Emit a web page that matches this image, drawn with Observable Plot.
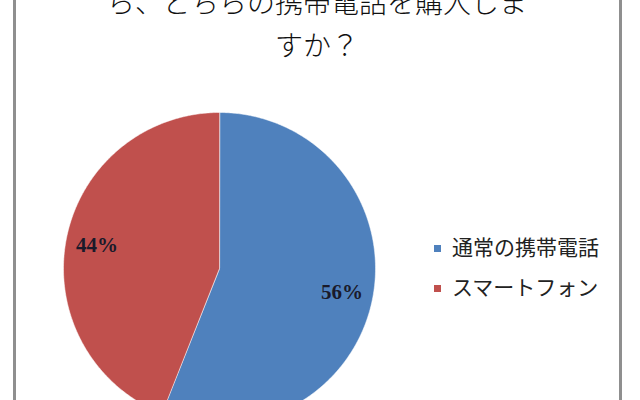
<!DOCTYPE html>
<html>
<head>
<meta charset="utf-8">
<script src="https://cdn.jsdelivr.net/npm/d3@7"></script>
<script src="https://cdn.jsdelivr.net/npm/@observablehq/plot@0.6"></script>
<style>
  html, body { margin: 0; padding: 0; background: #fff; }
  #wrap { position: relative; width: 640px; height: 400px; overflow: hidden; background: #fff; }
  #frameL, #frameR { position: absolute; top: 0; width: 3px; height: 400px; background: #8f8f8f; }
  #frameL { left: 13px; }
  #frameR { left: 619px; }
  #title { position: absolute; left: 14px; width: 606px; top: -20px; text-align: center;
    font-family: "Noto Sans CJK JP", sans-serif; font-size: 28px; font-weight: 300; line-height: 43px; color: #111; }
  #chart { position: absolute; left: 0; top: 0; }
  #legend { position: absolute; left: 434px; top: 231px; font-family: "Noto Sans CJK JP", sans-serif;
    font-size: 21px; color: #222; }
  .row { height: 40px; line-height: 31px; white-space: nowrap; }
  .sw { display: inline-block; width: 7px; height: 7px; margin-right: 11px; vertical-align: 3px; }
</style>
</head>
<body>
<div id="wrap">
  <div id="frameL"></div>
  <div id="frameR"></div>
  <div id="title"></div>
  <div id="chart"></div>
  <div id="legend"></div>
</div>
<script>
const titleLines = ["ら、どちらの携帯電話を購入しま", "すか？"];
const categories = ["通常の携帯電話", "スマートフォン"];
const values = [56, 44];
const labels = ["56%", "44%"];
const colors = ["#4F81BD", "#C0504D"];

document.getElementById("title").innerHTML = titleLines.join("<br>");

const data = categories.map((c, i) => ({name: c, value: values[i], label: labels[i]}));
const arcs = d3.pie().sort(null).value(d => d.value)(data);

// slice polygons in a unit-circle space (y down, angle clockwise from top)
const pt = (a, r) => [r * Math.sin(a), -r * Math.cos(a)];
const features = arcs.map(a => {
  const n = Math.max(4, Math.ceil((a.endAngle - a.startAngle) / 0.01));
  const ring = [[0, 0]];
  for (let k = 0; k <= n; k++) ring.push(pt(a.startAngle + (a.endAngle - a.startAngle) * k / n, 1));
  ring.push([0, 0]);
  return {type: "Feature", properties: {name: a.data.name}, geometry: {type: "Polygon", coordinates: [ring]}};
});
const labelPts = arcs.map(a => {
  const m = (a.startAngle + a.endAngle) / 2;
  const [x, y] = pt(m, 0.8);
  return {x, y, label: a.data.label};
});

const chart = Plot.plot({
  width: 640,
  height: 430,
  marginTop: 112,
  marginLeft: 63,
  marginRight: 265,
  marginBottom: 6,
  projection: {type: "identity", domain: {type: "MultiPoint", coordinates: [[-1, -1], [1, 1], [-1, 1], [1, -1]]}},
  color: {domain: categories, range: colors},
  marks: [
    Plot.geo(features, {fill: d => d.properties.name, stroke: "#ffffff", strokeOpacity: 0.5, strokeWidth: 1}),
    Plot.text(labelPts, {x: "x", y: "y", text: "label", fontSize: 21, fontWeight: "bold",
      fontFamily: "Liberation Serif, DejaVu Serif, serif", fill: "#1a1a2a"})
  ]
});
document.getElementById("chart").appendChild(chart);

const legend = document.getElementById("legend");
categories.forEach((c, i) => {
  const row = document.createElement("div");
  row.className = "row";
  row.innerHTML = `<span class="sw" style="background:${colors[i]}"></span>${c}`;
  legend.appendChild(row);
});
</script>
</body>
</html>
